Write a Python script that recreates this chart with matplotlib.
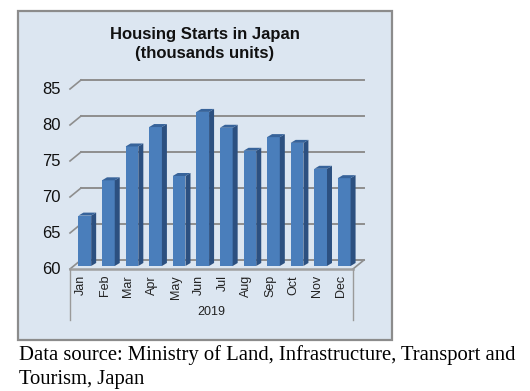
import matplotlib
matplotlib.use("Agg")
import matplotlib.pyplot as plt
from matplotlib.patches import Rectangle, Polygon
from matplotlib.transforms import Affine2D, IdentityTransform

months = ["Jan","Feb","Mar","Apr","May","Jun","Jul","Aug","Sep","Oct","Nov","Dec"]
starts = [67.0,71.9,76.6,79.3,72.5,81.4,79.2,76.0,77.9,77.1,73.5,72.2]
yticks = [60,65,70,75,80,85]
year = "2019"
title = "Housing Starts in Japan\n(thousands units)"
source = "Data source: Ministry of Land, Infrastructure, Transport and\nTourism, Japan"

W, H = 530, 391
fig = plt.figure(figsize=(W/100, H/100), dpi=100, facecolor="white")
plt.rcParams["font.family"] = ["Liberation Sans"]
PX = IdentityTransform()

def box(x0, y0, x1, y1):
    return [x0/W, 1-y1/H, (x1-x0)/W, (y1-y0)/H]

fig.add_artist(Rectangle((18/W, 1-340/H), (392-18)/W, (340-11)/H, transform=fig.transFigure,
                         fc="#DCE6F1", ec="#8C8C8C", lw=1.6, zorder=-1))

ax = fig.add_axes(box(70, 89, 353, 269))
ax.set_xlim(-0.5, 11.5)
ax.set_ylim(60, 85)
ax.patch.set_visible(False)
for s in ax.spines.values():
    s.set_visible(False)
ax.set_xticks([]); ax.set_yticks([])

dx, dy = 11, 9   # depth of the 3-D box in pixels
grid_c = "#8E8E8E"
for v in yticks:
    base = ax.transData
    shift = base + Affine2D().translate(dx, dy)
    ax.plot([-0.5, 11.5], [v, v], color=grid_c, lw=1.4, transform=shift, clip_on=False, zorder=1)
    p0 = base.transform((-0.5, v))
    ax.plot([p0[0], p0[0]+dx], [p0[1], p0[1]+dy], color=grid_c, lw=1.2, transform=PX, clip_on=False, zorder=1)
    ax.text(-0.5, v, str(v), transform=base + Affine2D().translate(-9, 0), ha="right", va="center",
            fontsize=12, color="#111111", clip_on=False)

# floor edge on the right and front axis line
p1 = ax.transData.transform((11.5, 60))
ax.plot([p1[0], p1[0]+dx], [p1[1], p1[1]+dy], color=grid_c, lw=1.2, transform=PX, clip_on=False, zorder=1)
ax.plot([-0.5, 11.5], [60, 60], color="#A0A0A0", lw=1.8, clip_on=False, zorder=2)

# bars
w = 0.54
face_shift = ax.transData + Affine2D().translate(3, 3)
bars = ax.bar(range(12), [v-60 for v in starts], bottom=60, width=w, color="#4A7EBB",
              transform=face_shift, zorder=4, clip_on=False)
sx, sy = 5, 3
for i, v in enumerate(starts):
    x1, y0 = face_shift.transform((i+w/2, 60))
    x0, y1 = face_shift.transform((i-w/2, v))
    ax.add_patch(Polygon([(x1, y0), (x1+sx, y0+sy), (x1+sx, y1+sy), (x1, y1)], closed=True,
                         transform=PX, fc="#2C5080", ec="none", zorder=4, clip_on=False))
    ax.add_patch(Polygon([(x0, y1), (x1, y1), (x1+sx, y1+sy), (x0+sx, y1+sy)], closed=True,
                         transform=PX, fc="#37639A", ec="none", zorder=4, clip_on=False))
    ax.text(i, 60, months[i], transform=ax.transData + Affine2D().translate(-0.5, -6), rotation=90,
            ha="center", va="top", fontsize=9, color="#222222", clip_on=False)

# multi-level axis
for xe in (-0.5, 11.5):
    ax.plot([xe, xe], [60, 60-51/7.2], color="#9A9A9A", lw=1.0, clip_on=False, zorder=2)
ax.text(5.5, 60-43/7.2, year, ha="center", va="center", fontsize=9, color="#222222", clip_on=False)

fig.text(205/W, 1-44/H, title, ha="center", va="center", fontsize=12, fontweight="bold",
         color="#111111", linespacing=1.4)
fig.text(19/W, 1-367/H, source, ha="left", va="center", fontsize=14.9, family=["Liberation Serif"],
         color="black", linespacing=1.35)

fig.savefig("out.png", dpi=100)
